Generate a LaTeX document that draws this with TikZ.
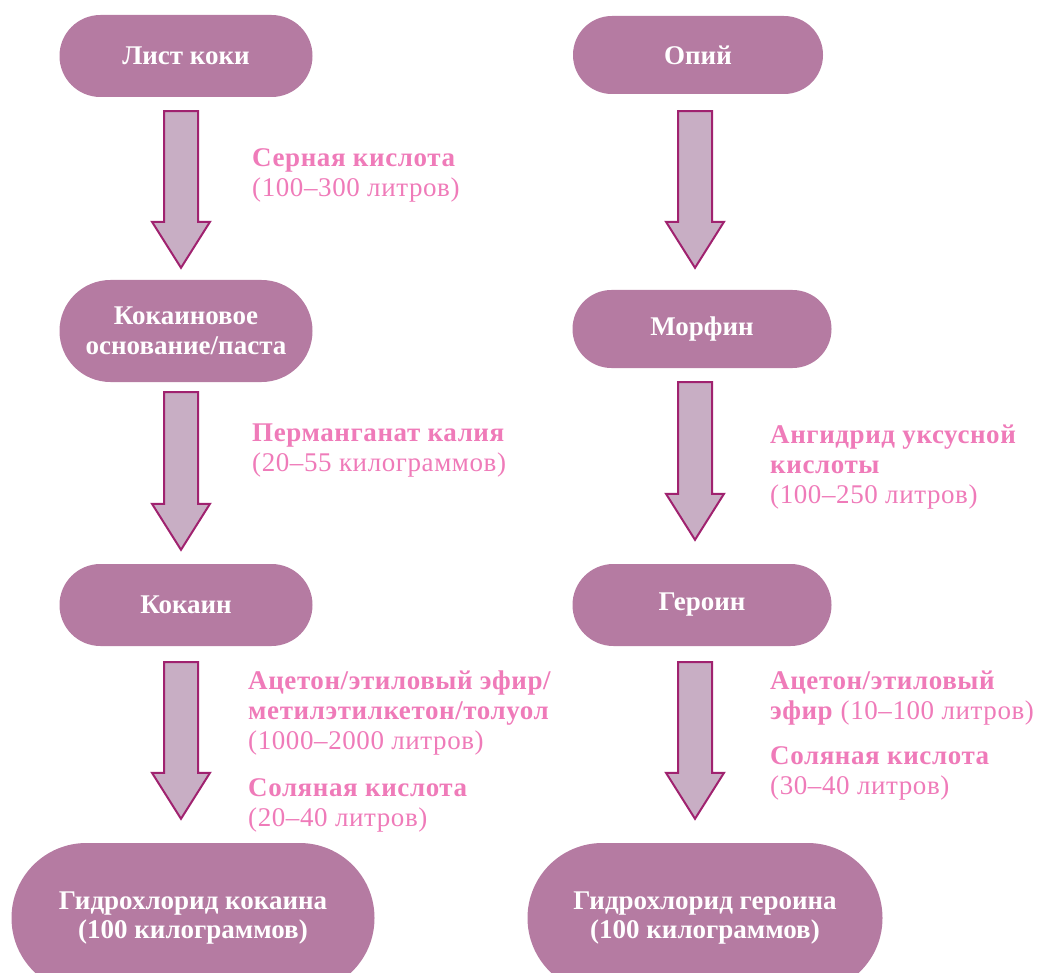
\documentclass[tikz,border=0pt]{standalone}
\usepackage{fontspec}
\setmainfont{Liberation Serif}
\newfontfamily\reagentfont{Liberation Serif}[LetterSpace=2.2]
\usetikzlibrary{calc}
\definecolor{boxfill}{HTML}{B57BA2}
\definecolor{arrowfill}{HTML}{C8AEC4}
\definecolor{arrowline}{HTML}{A0226F}
\definecolor{labelpink}{HTML}{EF7BB9}
\tikzset{
  stage/.style={fill=boxfill, draw=none, text=white, font=\bfseries\fontsize{27}{29.5}\selectfont,
    align=center, inner sep=0pt},
  reagent/.style={text=labelpink, font=\reagentfont\fontsize{27}{30}\selectfont, align=left,
    anchor=north west, inner sep=0pt},
  barrow/.style={fill=arrowfill, draw=arrowline, line width=2pt, line join=miter},
}
% block arrow between two stages: from node, to node, axis x, gap below source, gap above target
\newcommand\stagearrow[5]{%
  \draw[barrow] let \p1=(#1.south), \p2=(#2.north) in
    (#3pt-17pt,\y1-#4pt) -- (#3pt+17pt,\y1-#4pt) -- (#3pt+17pt,\y2+#5pt+46pt)
    -- (#3pt+29pt,\y2+#5pt+46pt) -- (#3pt,\y2+#5pt) -- (#3pt-29pt,\y2+#5pt+46pt)
    -- (#3pt-17pt,\y2+#5pt+46pt) -- cycle;}
\begin{document}
\begin{tikzpicture}[x=1pt, y=-1pt]
\useasboundingbox (0,0) rectangle (1038,973);
\begin{scope}
\clip (0,0) rectangle (1038,973);
% cocaine chain
\node[stage, minimum width=253pt, minimum height=82pt, rounded corners=40.9pt] (leaf) at (186,56) {Лист коки};
\node[stage, minimum width=253pt, minimum height=102pt, rounded corners=50.9pt] (paste) at (186,331) {Кокаиновое\\основание/паста};
\node[stage, minimum width=253pt, minimum height=82pt, rounded corners=40.9pt] (coke) at (186,605) {Кокаин};
\node[stage, minimum width=363pt, minimum height=150pt, rounded corners=74.9pt] (cokehcl) at (193,918) {Гидрохлорид кокаина\\(100 килограммов)};
% heroin chain
\node[stage, minimum width=250pt, minimum height=78pt, rounded corners=38.9pt] (opium) at (698,55) {Опий};
\node[stage, minimum width=259pt, minimum height=78pt, rounded corners=38.9pt] (morph) at (702,329) {Морфин};
\node[stage, minimum width=259pt, minimum height=82pt, rounded corners=40.9pt] (heroin) at (702,605) {Героин};
\node[stage, minimum width=355pt, minimum height=150pt, rounded corners=74.9pt] (herhcl) at (705,918) {Гидрохлорид героина\\(100 килограммов)};
\end{scope}
% process arrows
\stagearrow{leaf}{paste}{181}{14}{12}
\stagearrow{paste}{coke}{181}{10}{14}
\stagearrow{coke}{cokehcl}{181}{16}{24}
\stagearrow{opium}{morph}{695}{17}{22}
\stagearrow{morph}{heroin}{695}{14}{24}
\stagearrow{heroin}{herhcl}{695}{16}{24}
% reagents, cocaine side
\node[reagent] (r1) at (252,148) {\textbf{Серная кислота}\\(100–300 литров)};
\node[reagent] (r2) at (252,424) {\textbf{Перманганат калия}\\(20–55 килограммов)};
\node[reagent] (r3) at (248,671) {\textbf{Ацетон/этиловый эфир/}\\\textbf{метилэтилкетон/толуол}\\(1000–2000 литров)};
\node[reagent] (r4) at (248,778) {\textbf{Соляная кислота}\\(20–40 литров)};
% reagents, heroin side
\node[reagent] (r5) at (770,425) {\textbf{Ангидрид уксусной}\\\textbf{кислоты}\\(100–250 литров)};
\node[reagent] (r6) at (770,671) {\textbf{Ацетон/этиловый}\\\textbf{эфир} (10–100 литров)};
\node[reagent] (r7) at (770,746) {\textbf{Соляная кислота}\\(30–40 литров)};
\end{tikzpicture}
\end{document}
